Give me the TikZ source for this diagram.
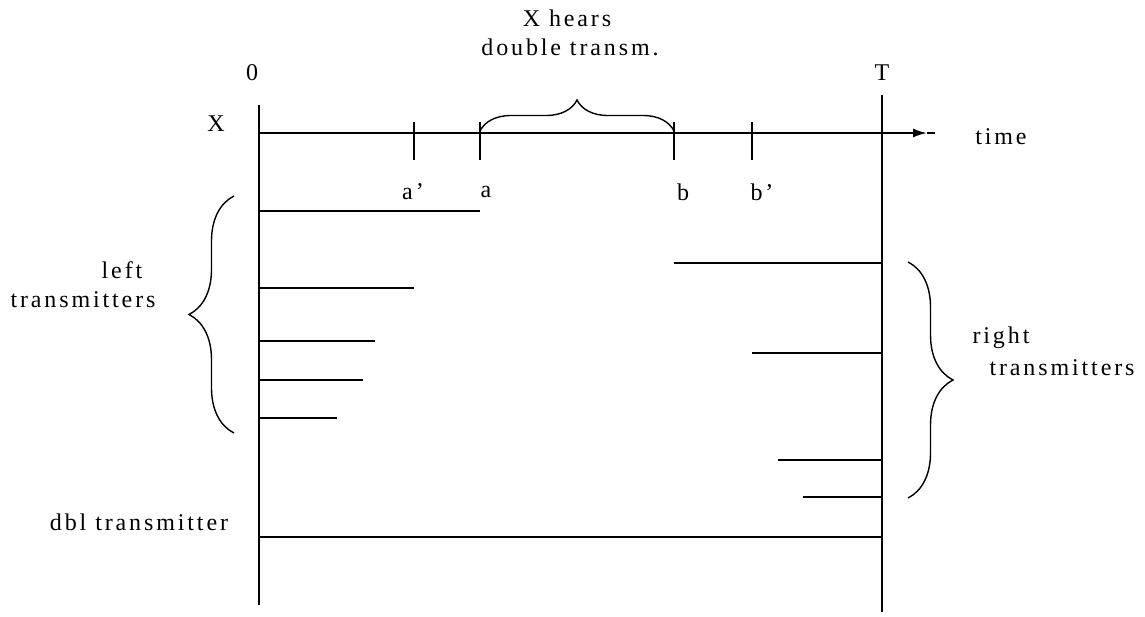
\documentclass[tikz,border=0pt]{standalone}
\usepackage{fontspec}
\setmainfont{Liberation Serif}[LetterSpace=12]
\usetikzlibrary{decorations.pathreplacing,arrows.meta}
\begin{document}
\begin{tikzpicture}[x=1pt,y=-1pt,
  ln/.style={line width=2pt},
  lbl/.style={font=\fontsize{24}{28}\selectfont, inner sep=0pt},
  bracestyle/.style={line width=1.4pt, decorate, decoration={brace, amplitude=#1}}]
\useasboundingbox (0,0) rectangle (1145,616);
% main verticals
\coordinate (Ltop) at (259,105);
\coordinate (Lbot) at (259,605);
\coordinate (Rtop) at (882,95);
\coordinate (Rbot) at (882,612);
\draw[ln] (Ltop) -- (Lbot);
\draw[ln] (Rtop) -- (Rbot);
% time axis
\coordinate (ax0) at (259,133);
\coordinate (axtip) at (927,133);
\coordinate (axend) at (935,133);
\draw[ln,-{Latex[length=14pt,width=9pt]}] (ax0) -- (axtip);
\draw[ln] (axtip) -- (axend);
% ticks
\foreach \n/\x in {ap/414, a/480, b/674, bp/752}{
  \coordinate (\n t) at (\x,122);
  \coordinate (\n b) at (\x,160);
  \draw[ln] (\n t) -- (\n b);
}
% top brace
\coordinate (bra) at (480,131);
\coordinate (brb) at (674,131);
\draw[bracestyle=31pt] (bra) -- (brb);
% left transmitters
\foreach \n/\y/\x in {l1/211/480, l2/288/414, l3/341/375, l4/380/363, l5/418/337}{
  \coordinate (\n s) at (259,\y);
  \coordinate (\n e) at (\x,\y);
  \draw[ln] (\n s) -- (\n e);
}
% right transmitters
\foreach \n/\y/\x in {r1/263/674, r2/353/752, r3/460/778, r4/497/803}{
  \coordinate (\n s) at (\x,\y);
  \coordinate (\n e) at (882,\y);
  \draw[ln] (\n s) -- (\n e);
}
% dbl transmitter
\coordinate (ds) at (259,537);
\coordinate (de) at (882,537);
\draw[ln] (ds) -- (de);
% side braces
\coordinate (lb1) at (234,433);
\coordinate (lb2) at (234,196);
\draw[bracestyle=45pt] (lb1) -- (lb2);
\coordinate (rb1) at (908,262);
\coordinate (rb2) at (908,498);
\draw[bracestyle=45pt] (rb1) -- (rb2);
% labels
\node[lbl] (hears) at (567,18) {X hears};
\node[lbl] (dbltr) at (570,47) {double transm.};
\node[lbl] (zero) at (252,73) {0};
\node[lbl] (tT) at (882,73) {T};
\node[lbl] (tX) at (216,124) {X};
\node[lbl] (time) at (1001,137) {time};
\node[lbl] (lap) at (413,192) {a’};
\node[lbl] (la) at (486,192) {a};
\node[lbl] (lb) at (683,192) {b};
\node[lbl] (lbp) at (762,192) {b’};
\node[lbl] (left) at (122,270) {left};
\node[lbl] (ltr) at (83,300) {transmitters};
\node[lbl] (right) at (1001,338) {right};
\node[lbl] (rtr) at (1062,368) {transmitters};
\node[lbl] (dbl) at (139,522) {dbl transmitter};
\end{tikzpicture}
\end{document}
